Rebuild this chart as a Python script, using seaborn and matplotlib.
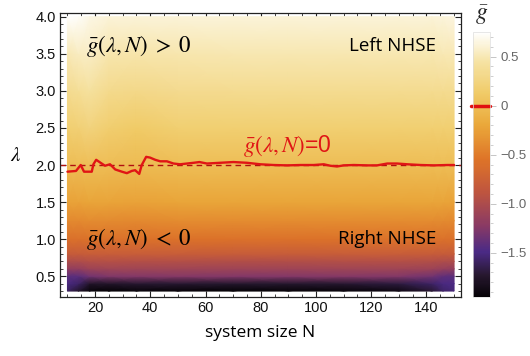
import numpy as np
import matplotlib
matplotlib.use("Agg")
import matplotlib.pyplot as plt
import seaborn as sns
from matplotlib.colors import LinearSegmentedColormap
from matplotlib.ticker import MultipleLocator

# grid of the averaged field g(lambda, N)
N_grid = [10, 14, 18, 25, 35, 50, 70, 90, 110, 130, 142, 146, 150]
lam_grid = [0.3, 0.4, 0.5, 0.6, 0.7, 0.8, 1.0, 1.25, 1.5, 2.0, 2.5, 3.0, 3.5, 4.0]
g_field = [
    [-1.60, -1.75, -1.92, -1.94, -1.92, -1.93, -1.94, -1.93, -1.92, -1.88, -1.72, -1.58, -1.52],  # 0.3
    [-1.50, -1.58, -1.75, -1.76, -1.72, -1.72, -1.73, -1.73, -1.72, -1.68, -1.58, -1.50, -1.48],  # 0.4
    [-1.42, -1.42, -1.32, -1.26, -1.25, -1.24, -1.25, -1.25, -1.24, -1.25, -1.32, -1.40, -1.42],  # 0.5
    [-1.16, -1.16, -1.10, -1.08, -1.08, -1.08, -1.09, -1.09, -1.08, -1.08, -1.10, -1.14, -1.16],  # 0.6
    [-0.98, -0.98, -0.95, -0.94, -0.95, -0.95, -0.96, -0.96, -0.95, -0.95, -0.96, -0.98, -0.98],  # 0.7
    [-0.82, -0.82, -0.80, -0.80, -0.80, -0.80, -0.81, -0.81, -0.80, -0.80, -0.81, -0.82, -0.82],  # 0.8
    [-0.58, -0.58, -0.56, -0.57, -0.57, -0.56, -0.57, -0.57, -0.56, -0.56, -0.57, -0.57, -0.58],  # 1.0
    [-0.40, -0.40, -0.38, -0.39, -0.40, -0.38, -0.38, -0.38, -0.38, -0.38, -0.38, -0.39, -0.40],  # 1.25
    [-0.24, -0.24, -0.22, -0.23, -0.24, -0.22, -0.22, -0.22, -0.22, -0.22, -0.22, -0.23, -0.24],  # 1.5
    [0.00, 0.00, 0.01, 0.00, -0.02, 0.00, 0.00, 0.00, 0.00, 0.00, 0.00, 0.00, 0.00],  # 2.0
    [0.18, 0.20, 0.24, 0.16, 0.12, 0.17, 0.18, 0.18, 0.18, 0.18, 0.18, 0.18, 0.18],  # 2.5
    [0.34, 0.38, 0.42, 0.32, 0.30, 0.33, 0.34, 0.34, 0.34, 0.34, 0.34, 0.34, 0.34],  # 3.0
    [0.50, 0.54, 0.56, 0.48, 0.47, 0.48, 0.49, 0.49, 0.49, 0.49, 0.49, 0.50, 0.50],  # 3.5
    [0.74, 0.72, 0.66, 0.62, 0.62, 0.62, 0.62, 0.62, 0.62, 0.62, 0.62, 0.63, 0.64],  # 4.0
]

# zero contour of g, traced by hand
zero_N = [10.0, 13.1, 14.8, 16.0, 18.8, 19.4, 20.4, 22.4, 23.6, 25.4, 27.3, 29.7,
          31.5, 33.3, 34.5, 36.0, 36.9, 38.5, 39.9, 41.8, 43.6, 46.0, 48.4, 50.8,
          53.3, 55.7, 57.8, 60.5, 65.3, 70.1, 75.0, 79.8, 84.6, 89.5, 94.3, 99.2,
          102.8, 105.2, 107.6, 110.0, 113.7, 118.5, 122.1, 125.8, 129.4, 133.0,
          137.9, 142.7, 147.5, 150.0]
zero_lam = [1.91, 1.92, 2.00, 1.91, 1.91, 2.01, 2.07, 2.02, 1.99, 2.01, 1.94, 1.91,
            1.89, 1.92, 1.93, 1.88, 2.00, 2.11, 2.10, 2.07, 2.05, 2.05, 2.02, 2.01,
            2.02, 2.03, 2.04, 2.02, 2.03, 2.04, 2.03, 2.01, 2.00, 1.995, 2.00, 2.00,
            2.01, 1.99, 1.98, 1.995, 2.00, 1.995, 1.995, 2.02, 2.02, 2.01,
            2.00, 1.995, 2.00, 2.00]

cbar_ticks = [0.5, 0, -0.5, -1.0, -1.5]
cbar_labels = ["0.5", "0", "\u22120.5", "\u22121.0", "\u22121.5"]

sunset = LinearSegmentedColormap.from_list("sunset", [
    (0.00, "#050206"), (0.08, "#27182f"), (0.17, "#4b2a85"), (0.27, "#8a3a64"),
    (0.40, "#c0563e"), (0.52, "#de7428"), (0.65, "#eaa83a"), (0.77, "#f0cb68"),
    (0.89, "#f6e3a4"), (1.00, "#ffffff")])

sns.set_style("ticks")
plt.rcParams["font.family"] = ["Liberation Sans", "DejaVu Sans"]
plt.rcParams["mathtext.fontset"] = "stix"

fig = plt.figure(figsize=(5.3, 3.56), dpi=100)
ax = fig.add_axes([0.1132, 0.1657, 0.7566, 0.7978])
cax = fig.add_axes([0.8925, 0.1657, 0.032, 0.744])

mesh = ax.pcolormesh(N_grid, lam_grid, np.array(g_field), cmap=sunset,
                     vmin=-1.95, vmax=0.75, shading="gouraud")
ax.axhline(2.0, color="#b01010", lw=1.0, ls=(0, (4, 3)))
sns.lineplot(x=zero_N, y=zero_lam, ax=ax, sort=False, estimator=None,
             color="#e01515", lw=1.7)

ax.set_xlim(7.3, 152.5)
ax.set_ylim(0.22, 4.05)
ax.xaxis.set_major_locator(MultipleLocator(20))
ax.xaxis.set_minor_locator(MultipleLocator(5))
ax.yaxis.set_major_locator(MultipleLocator(0.5))
ax.yaxis.set_minor_locator(MultipleLocator(0.1))
ax.yaxis.set_major_formatter(matplotlib.ticker.FormatStrFormatter("%.1f"))
ax.tick_params(which="both", direction="in", top=True, right=True,
               labelsize=10.5, colors="#222222", labelcolor="#111111", pad=3)
ax.tick_params(which="major", length=4, width=0.8)
ax.tick_params(which="minor", length=2.2, width=0.6)
for s in ax.spines.values():
    s.set_color("#222222")
    s.set_linewidth(0.9)

ax.set_xlabel("system size N", fontsize=12.5, family="Open Sans", color="black", labelpad=7)
ax.set_ylabel(r"$\lambda$", fontsize=15, rotation=0, labelpad=14, va="center", color="black")

ax.text(16.8, 3.6, r"$\bar{g}(\lambda,N)\;>\;0$", fontsize=16.5, va="center", color="black")
ax.text(16.8, 1.0, r"$\bar{g}(\lambda,N)\;<\;0$", fontsize=16.5, va="center", color="black")
ax.text(143.5, 3.6, "Left NHSE", fontsize=13.5, family="Open Sans", ha="right", va="center", color="black")
ax.text(143.5, 1.0, "Right NHSE", fontsize=13.5, family="Open Sans", ha="right", va="center", color="black")
ax.text(73.7, 2.25, r"$\bar{g}(\lambda,N)$=0", fontsize=16.5, color="#e01515", va="center")

cb = fig.colorbar(mesh, cax=cax)
cb.set_ticks(cbar_ticks)
cb.set_ticklabels(cbar_labels)
cb.ax.yaxis.set_minor_locator(MultipleLocator(0.1))
cb.ax.tick_params(which="both", colors="#bbbbbb", labelcolor="#666666", labelsize=9.5)
cb.ax.tick_params(which="major", length=4, width=0.6)
cb.ax.tick_params(which="minor", length=2, width=0.5)
cb.outline.set_edgecolor("#dddddd")
cb.outline.set_linewidth(0.5)
cax.axhline(0, color="#e01010", lw=2.5, xmin=-0.1, clip_on=False)
cax.set_title(r"$\bar{g}$", fontsize=17, pad=9)

fig.savefig("out.png", dpi=100)
